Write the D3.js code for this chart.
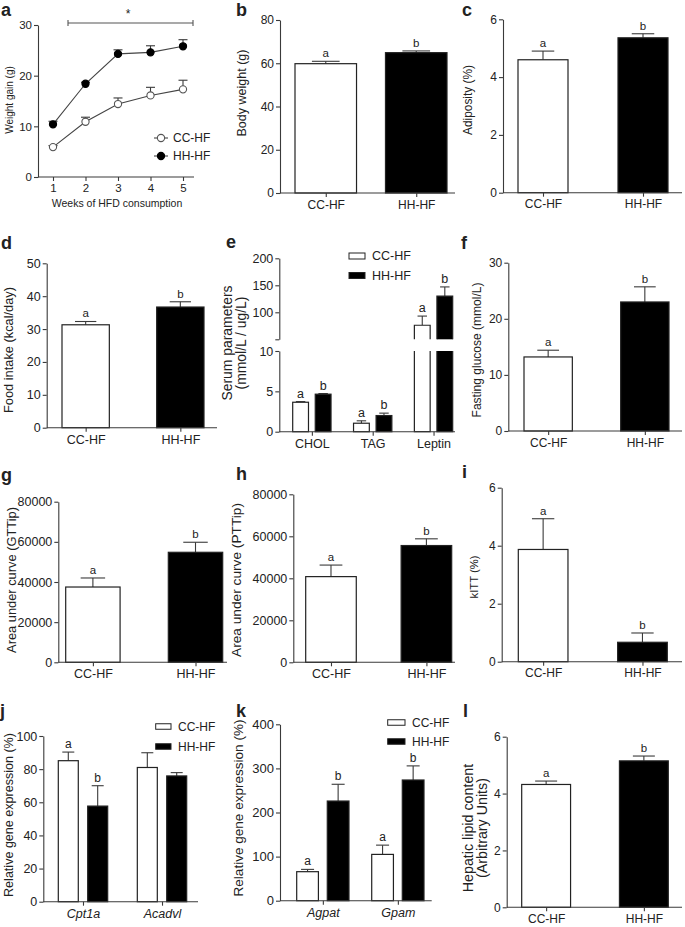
<!DOCTYPE html>
<html><head><meta charset="utf-8">
<script src="https://cdn.jsdelivr.net/npm/d3@7"></script>
<style>
body{margin:0;background:#fff}
svg{display:block}
text{font-family:"Liberation Sans",Arial,sans-serif;fill:#222}
</style>
</head><body>
<svg id="fig" width="685" height="927"></svg>
<script>
// ---------------- DATA ----------------
const groups = ["CC-HF", "HH-HF"];
// a: weight gain over weeks
const weeks = [1, 2, 3, 4, 5];
const gainCC = [5.9, 10.9, 14.4, 16.1, 17.3];
const gainCCerr = [0.3, 0.9, 1.2, 1.6, 1.8];
const gainHH = [10.4, 18.4, 24.3, 24.6, 25.8];
const gainHHerr = [0.6, 0.3, 0.8, 1.3, 1.3];
const ticksA = [0, 10, 20, 30];
// b
const bodyWeight = [59.8, 64.9];
const bodyWeightErr = [1.1, 0.8];
const ticksB = [0, 20, 40, 60, 80];
// c
const adiposity = [4.6, 5.36];
const adiposityErr = [0.3, 0.14];
const ticksC = [0, 2, 4, 6];
// d
const foodIntake = [31.3, 36.7];
const foodIntakeErr = [1.0, 1.6];
const ticksD = [0, 10, 20, 30, 40, 50];
// e (broken axis)
const serumCats = ["CHOL", "TAG", "Leptin"];
const serumCC = [3.65, 1.05, 76];
const serumCCerr = [0.08, 0.3, 17];
const serumHH = [4.65, 2.0, 130];
const serumHHerr = [0.08, 0.3, 17];
const serumLetters = [["a", "b"], ["a", "b"], ["a", "b"]];
const ticksELow = [0, 5, 10];
const ticksEHigh = [50, 100, 150, 200];
// f
const glucose = [13.2, 23.0];
const glucoseErr = [1.2, 2.7];
const ticksF = [0, 10, 20, 30];
// g
const gttAUC = [37500, 54800];
const gttAUCErr = [4500, 5000];
// h
const pttAUC = [40800, 55600];
const pttAUCErr = [5500, 3200];
const ticksGH = [0, 20000, 40000, 60000, 80000];
// i
const kitt = [3.87, 0.67];
const kittErr = [1.06, 0.32];
const ticksI = [0, 2, 4, 6];
// j
const oxGenes = ["Cpt1a", "Acadvl"];
const oxCC = [85.1, 81.0];
const oxCCerr = [5.2, 8.9];
const oxHH = [57.7, 75.9];
const oxHHerr = [12.3, 2.0];
const oxLetters = [["a", "b"], ["", ""]];
const ticksJ = [0, 20, 40, 60, 80, 100];
// k
const lipoGenes = ["Agpat", "Gpam"];
const lipoCC = [65.8, 105];
const lipoCCerr = [5.2, 21];
const lipoHH = [226, 273.7];
const lipoHHerr = [38, 32];
const lipoLetters = [["a", "b"], ["a", "b"]];
const ticksK = [0, 100, 200, 300, 400];
// l
const hepatic = [4.32, 5.15];
const hepaticErr = [0.12, 0.17];
const ticksL = [0, 2, 4, 6];
const lettersAB = ["a", "b"];

// ---------------- DRAWING ----------------
const svg = d3.select("#fig");
const AX = "#3a3a3a";
const FONT = '"Liberation Sans", Arial, sans-serif';
const fills = ["#fff", "#000"];

function styleAxis(gg, fs) {
  gg.attr("font-family", FONT).attr("font-size", fs);
  gg.selectAll("path,line").attr("stroke", AX).attr("stroke-width", 1.1);
  gg.selectAll("text").attr("fill", "#222");
}
function yAxis(y, x, ticks, fs, fmt) {
  const ax = d3.axisLeft(y).tickValues(ticks).tickSize(4).tickSizeOuter(0).tickPadding(2)
    .tickFormat(fmt || d3.format("d"));
  const gg = svg.append("g").attr("transform", `translate(${x},0)`).call(ax);
  styleAxis(gg, fs);
  return gg;
}
function xAxisLine(x0, x1, y0) {
  svg.append("line").attr("x1", x0).attr("x2", x1).attr("y1", y0).attr("y2", y0)
    .attr("stroke", AX).attr("stroke-width", 1.1);
}
function xTicks(scale, vals, y0, fs, italic, fmt) {
  const ax = d3.axisBottom(scale).tickValues(vals).tickSize(4).tickSizeOuter(0).tickPadding(3);
  if (fmt) ax.tickFormat(fmt);
  const gg = svg.append("g").attr("transform", `translate(0,${y0})`).call(ax);
  gg.select(".domain").remove();
  styleAxis(gg, fs);
  if (italic) gg.selectAll("text").attr("font-style", "italic");
  return gg;
}
function panelLetter(t, x, y) {
  svg.append("text").attr("x", x).attr("y", y).attr("font-size", 18).attr("font-weight", "bold")
    .attr("fill", "#000").text(t);
}
// rotated title; font size fitted so that the first line spans `len` pixels
function yTitle(lines, x, yc, len, gap) {
  const ts = lines.map((t, i) => svg.append("text")
    .attr("transform", `translate(${x + i * (gap || 0)},${yc}) rotate(-90)`)
    .attr("text-anchor", "middle").attr("dy", "0.35em").attr("font-size", 12).text(t));
  const refIdx = lines.length > 1 ? 1 : 0;
  const w = ts[refIdx].node().getComputedTextLength();
  let fs = w > 0 ? 12 * len / w : 12;
  fs = Math.max(10, Math.min(15, fs));
  ts.forEach(t => t.attr("font-size", fs));
}
function errBar(cx, yTop, yErr, cw) {
  svg.append("line").attr("x1", cx).attr("x2", cx).attr("y1", yTop).attr("y2", yErr)
    .attr("stroke", AX).attr("stroke-width", 1.1);
  svg.append("line").attr("x1", cx - cw / 2).attr("x2", cx + cw / 2).attr("y1", yErr).attr("y2", yErr)
    .attr("stroke", AX).attr("stroke-width", 1.1);
}
function sigText(t, cx, yy, fs) {
  if (!t) return;
  svg.append("text").attr("x", cx).attr("y", yy).attr("text-anchor", "middle")
    .attr("font-size", fs).text(t);
}
function legend(x, ys, fs, rw, rh) {
  groups.forEach((gname, i) => {
    svg.append("rect").attr("x", x).attr("y", ys[i] - rh / 2).attr("width", rw).attr("height", rh)
      .attr("fill", fills[i]).attr("stroke", "#222").attr("stroke-width", 1);
    svg.append("text").attr("x", x + rw + 7).attr("y", ys[i]).attr("dy", "0.35em")
      .attr("font-size", fs).text(gname);
  });
}

// simple two-bar panel
function barPanel(o) {
  const y = d3.scaleLinear().domain([0, o.max]).range([o.y0, o.yTop]);
  const x = d3.scaleBand().domain(groups).range([o.barL, o.barR]).paddingInner(o.pad);
  const bw = x.bandwidth();
  groups.forEach((gname, i) => {
    const v = o.values[i], e = o.errs[i];
    const cx = x(gname) + bw / 2;
    errBar(cx, y(v), y(v + e), bw * 0.45);
    svg.append("rect").attr("x", x(gname)).attr("y", y(v)).attr("width", bw).attr("height", o.y0 - y(v))
      .attr("fill", fills[i]).attr("stroke", "#222").attr("stroke-width", 1.2);
    sigText(o.letters[i], cx, y(v + e) - 4, 11.5);
  });
  xAxisLine(o.x0, o.xEnd, o.y0);
  const xc = d3.scalePoint().domain(groups).range([x(groups[0]) + bw / 2, x(groups[1]) + bw / 2]);
  xTicks(xc, groups, o.y0, o.cfs || 12);
  yAxis(y, o.x0, o.ticks, o.fs);
  yTitle(o.title, o.tx, o.ty, o.tlen, o.tgap);
  panelLetter(o.letter, o.lx, o.ly);
}

// grouped two-series panel
function groupPanel(o) {
  const y = d3.scaleLinear().domain([0, o.max]).range([o.y0, o.yTop]);
  const x = d3.scaleBand().domain(o.cats).range([o.barL, o.barR]).paddingInner(o.pad);
  const xs = d3.scaleBand().domain(groups).range([0, x.bandwidth()]).paddingInner(o.pad2);
  const bw = xs.bandwidth();
  o.cats.forEach((c, ci) => {
    o.series.forEach((s, si) => {
      const v = s[ci], e = o.errs[si][ci];
      const bx = x(c) + xs(groups[si]);
      const cx = bx + bw / 2;
      errBar(cx, y(v), y(v + e), bw * 0.6);
      svg.append("rect").attr("x", bx).attr("y", y(v)).attr("width", bw).attr("height", o.y0 - y(v))
        .attr("fill", fills[si]).attr("stroke", "#222").attr("stroke-width", 1.2);
      sigText(o.letters[ci][si], cx, y(v + e) - 4, 12);
    });
  });
  xAxisLine(o.x0, o.xEnd, o.y0);
  const xc = d3.scalePoint().domain(o.cats)
    .range([x(o.cats[0]) + x.bandwidth() / 2, x(o.cats[o.cats.length - 1]) + x.bandwidth() / 2]);
  xTicks(xc, o.cats, o.y0, 12.5, o.italic);
  yAxis(y, o.x0, o.ticks, o.fs);
  yTitle(o.title, o.tx, o.ty, o.tlen);
  legend(o.legX, o.legY, 12, o.legW, o.legH);
  panelLetter(o.letter, o.lx, o.ly);
}

// ---- panel a ----
(function () {
  const x0 = 38, y0 = 177;
  const x = d3.scaleLinear().domain([1, 5]).range([53, 183]);
  const y = d3.scaleLinear().domain([0, 30]).range([y0, 25]);
  const series = [
    {v: gainCC, e: gainCCerr, fill: "#fff", stroke: "#555"},
    {v: gainHH, e: gainHHerr, fill: "#000", stroke: "#000"}
  ];
  series.forEach(s => {
    weeks.forEach((w, i) => errBar(x(w), y(s.v[i]), y(s.v[i] + s.e[i]), 9));
    svg.append("path").datum(weeks.map((w, i) => [w, s.v[i]]))
      .attr("d", d3.line().x(d => x(d[0])).y(d => y(d[1])))
      .attr("fill", "none").attr("stroke", "#444").attr("stroke-width", 1.1);
    svg.selectAll(null).data(weeks.map((w, i) => [w, s.v[i]])).enter().append("circle")
      .attr("cx", d => x(d[0])).attr("cy", d => y(d[1])).attr("r", 3.6)
      .attr("fill", s.fill).attr("stroke", s.stroke).attr("stroke-width", 1.1);
  });
  xAxisLine(x0, 194, y0);
  xTicks(x, weeks, y0, 11.5, false, d3.format("d"));
  yAxis(y, x0, ticksA, 11.5);
  svg.append("text").attr("x", 117).attr("y", 207).attr("text-anchor", "middle").attr("font-size", 10.5)
    .text("Weeks of HFD consumption");
  yTitle(["Weight gain (g)"], 9, 100, 65);
  // significance bar
  svg.append("path").attr("d", "M68,20V26M68,23H193M193,20V26").attr("stroke", "#555")
    .attr("fill", "none").attr("stroke-width", 1.1);
  svg.append("text").attr("x", 128).attr("y", 18).attr("text-anchor", "middle").attr("font-size", 12).text("*");
  // legend
  const ly = [138, 156];
  series.forEach((s, i) => {
    svg.append("line").attr("x1", 154).attr("x2", 168).attr("y1", ly[i]).attr("y2", ly[i])
      .attr("stroke", "#444").attr("stroke-width", 1.1);
    svg.append("circle").attr("cx", 161).attr("cy", ly[i]).attr("r", 3.6)
      .attr("fill", s.fill).attr("stroke", s.stroke).attr("stroke-width", 1.1);
    svg.append("text").attr("x", 173).attr("y", ly[i]).attr("dy", "0.35em").attr("font-size", 12).text(groups[i]);
  });
  panelLetter("a", 1, 16);
})();

barPanel({letter: "b", lx: 236, ly: 16, x0: 280, y0: 193, yTop: 20, max: 80, ticks: ticksB, xEnd: 455,
  barL: 295, barR: 447, pad: 0.32, values: bodyWeight, errs: bodyWeightErr, letters: lettersAB,
  title: ["Body weight (g)"], tx: 242, ty: 93, tlen: 87, fs: 12});
barPanel({letter: "c", lx: 462, ly: 16, x0: 503, y0: 192.7, yTop: 19.3, max: 6, ticks: ticksC, xEnd: 682,
  barL: 518, barR: 668, pad: 0.5, values: adiposity, errs: adiposityErr, letters: lettersAB,
  title: ["Adiposity (%)"], tx: 468, ty: 100, tlen: 70, fs: 12});
barPanel({letter: "d", lx: 1, ly: 249, x0: 46.7, y0: 427.7, yTop: 263.3, max: 50, ticks: ticksD, xEnd: 217,
  barL: 62, barR: 204, pad: 0.5, values: foodIntake, errs: foodIntakeErr, letters: lettersAB,
  title: ["Food intake (kcal/day)"], tx: 9, ty: 350, tlen: 126, fs: 12.5, cfs: 12.5});

// ---- panel e (broken axis) ----
(function () {
  const x0 = 279.3, y0 = 431.7;
  const yLow = d3.scaleLinear().domain([0, 10]).range([y0, 351]);
  const yHigh = d3.scaleLinear().domain([50, 200]).range([339.3, 258.3]);
  const x = d3.scaleBand().domain(serumCats).range([292.7, 452.7]).paddingInner(0.37);
  const xs = d3.scaleBand().domain(groups).range([0, x.bandwidth()]).paddingInner(0.3);
  const bw = xs.bandwidth();
  const series = [serumCC, serumHH], errs = [serumCCerr, serumHHerr];
  const yv = v => v <= 10 ? yLow(v) : yHigh(v);
  serumCats.forEach((c, ci) => {
    series.forEach((s, si) => {
      const v = s[ci], e = errs[si][ci];
      const bx = x(c) + xs(groups[si]), cx = bx + bw / 2;
      errBar(cx, yv(v), yv(v + e), bw * 0.6);
      if (v <= 10) {
        svg.append("rect").attr("x", bx).attr("y", yLow(v)).attr("width", bw).attr("height", y0 - yLow(v))
          .attr("fill", fills[si]).attr("stroke", "#222").attr("stroke-width", 1.2);
      } else {
        const yl = yLow(10), yh0 = yHigh(50), yt = yHigh(v);
        svg.append("rect").attr("x", bx).attr("y", yl).attr("width", bw).attr("height", y0 - yl)
          .attr("fill", fills[si]).attr("stroke", "none");
        svg.append("path").attr("d", `M${bx},${yl}V${y0}H${bx + bw}V${yl}`)
          .attr("fill", "none").attr("stroke", "#222").attr("stroke-width", 1.2);
        svg.append("rect").attr("x", bx).attr("y", yt).attr("width", bw).attr("height", yh0 - yt)
          .attr("fill", fills[si]).attr("stroke", "none");
        svg.append("path").attr("d", `M${bx},${yh0}V${yt}H${bx + bw}V${yh0}`)
          .attr("fill", "none").attr("stroke", "#222").attr("stroke-width", 1.2);
      }
      sigText(serumLetters[ci][si], cx, yv(v + e) - 4, 12.5);
    });
  });
  xAxisLine(x0, 455, y0);
  const xc = d3.scalePoint().domain(serumCats)
    .range([x(serumCats[0]) + x.bandwidth() / 2, x(serumCats[2]) + x.bandwidth() / 2]);
  xTicks(xc, serumCats, y0, 12.5);
  yAxis(yLow, x0, ticksELow, 12.5);
  yAxis(yHigh, x0, ticksEHigh, 12.5, d => d === 50 ? "" : d3.format("d")(d));
  yTitle(["Serum parameters", "(mmol/L / ug/L)"], 227, 343, 93, 14);
  legend(349, [256, 275.5], 12.5, 16, 6);
  panelLetter("e", 226, 248);
})();

barPanel({letter: "f", lx: 461, ly: 249, x0: 508.3, y0: 431, yTop: 262.7, max: 30, ticks: ticksF, xEnd: 682,
  barL: 524, barR: 669, pad: 0.5, values: glucose, errs: glucoseErr, letters: lettersAB,
  title: ["Fasting glucose (mmol/L)"], tx: 477, ty: 350, tlen: 135, fs: 12});
barPanel({letter: "g", lx: 1, ly: 481, x0: 58.3, y0: 662.3, yTop: 501.7, max: 80000, ticks: ticksGH, xEnd: 227,
  barL: 65.7, barR: 222.7, pad: 0.47, values: gttAUC, errs: gttAUCErr, letters: lettersAB,
  title: ["Area under curve (GTTip)"], tx: 11, ty: 580, tlen: 146, fs: 12.5, cfs: 12.5});
barPanel({letter: "h", lx: 236, ly: 480, x0: 293.3, y0: 662.3, yTop: 494.3, max: 80000, ticks: ticksGH, xEnd: 455,
  barL: 305.7, barR: 451.7, pad: 0.47, values: pttAUC, errs: pttAUCErr, letters: lettersAB,
  title: ["Area under curve (PTTip)"], tx: 236, ty: 580, tlen: 154, fs: 12.5, cfs: 12.5});
barPanel({letter: "i", lx: 462, ly: 478, x0: 501.7, y0: 661.7, yTop: 487.7, max: 6, ticks: ticksI, xEnd: 682,
  barL: 518.3, barR: 667.3, pad: 0.5, values: kitt, errs: kittErr, letters: lettersAB,
  title: ["kITT (%)"], tx: 474, ty: 577, tlen: 43, fs: 12});

groupPanel({letter: "j", lx: 0, ly: 717, x0: 43.3, y0: 901.7, yTop: 736, max: 100, ticks: ticksJ, xEnd: 198,
  cats: oxGenes, barL: 58.3, barR: 186.7, pad: 0.375, pad2: 0.32, series: [oxCC, oxHH], errs: [oxCCerr, oxHHerr],
  letters: oxLetters, italic: true, title: ["Relative gene expression (%)"], tx: 9, ty: 815, tlen: 164, fs: 12.5,
  legX: 155.7, legY: [726.5, 746.5], legW: 15.3, legH: 5.5});
groupPanel({letter: "k", lx: 236, ly: 717, x0: 280, y0: 900.7, yTop: 724.3, max: 400, ticks: ticksK, xEnd: 431.7,
  cats: lipoGenes, barL: 296.7, barR: 424, pad: 0.303, pad2: 0.29, series: [lipoCC, lipoHH], errs: [lipoCCerr, lipoHHerr],
  letters: lipoLetters, italic: true, title: ["Relative gene expression (%)"], tx: 238, ty: 808, tlen: 177, fs: 13,
  legX: 387.7, legY: [722.5, 741.5], legW: 17.3, legH: 5.5});

barPanel({letter: "l", lx: 463, ly: 717, x0: 506.7, y0: 907.3, yTop: 736.7, max: 6, ticks: ticksL, xEnd: 682,
  barL: 521.7, barR: 668.3, pad: 0.5, values: hepatic, errs: hepaticErr, letters: lettersAB,
  title: ["Hepatic lipid content", "(Arbitrary Units)"], tx: 468, ty: 828, tlen: 100, tgap: 14, fs: 12});
</script>
</body></html>
